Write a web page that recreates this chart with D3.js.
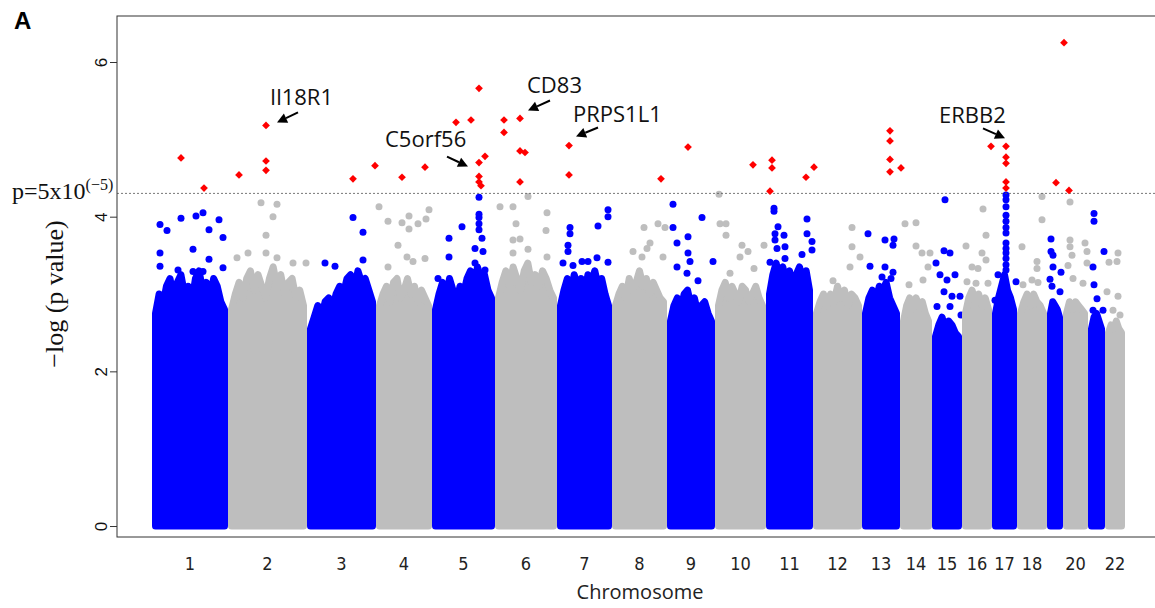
<!DOCTYPE html>
<html>
<head>
<meta charset="utf-8">
<script src="https://cdn.jsdelivr.net/npm/d3@7"></script>
<style>
  body { margin: 0; background: #fff; }
  svg { display: block; }
</style>
</head>
<body>
<svg id="chart" width="1155" height="608"></svg>
<script>
// chromosomes and number of SNPs (thousands) on each, in plot order
const chromosomes = ['1','2','3','4','5','6','7','8','9','10','11','12','13','14','15','16','17','18','19','20','21','22'];
const snpCountK = [76,79,69,56,63,62,55,55,48,51,47,49,38,32,30,30,25,30,16,25,17,20];
const tickChroms = ['1','2','3','4','5','6','7','8','9','10','11','12','13','14','15','16','17','18','20','22'];
const yTicks = [0, 2, 4, 6];
const sigThreshold = 5e-5;

// top of the dense cloud of SNPs per chromosome (-log p, evenly spaced along chromosome)
const cloudTop = [
  [2.75, 3.0, 2.85, 3.1, 3.2, 2.95, 3.15, 3.25, 3.0, 3.1, 2.9, 3.2, 3.3, 3.05, 3.15, 2.95, 3.2, 3.1, 2.9, 2.8],
  [2.8, 3.0, 3.15, 2.95, 3.2, 3.3, 3.05, 3.25, 3.1, 2.95, 3.2, 3.35, 3.1, 3.25, 3.0, 3.15, 3.2, 2.95, 3.05, 2.85],
  [2.55, 2.7, 2.85, 2.7, 2.9, 2.95, 2.8, 3.0, 3.1, 3.0, 3.2, 3.25, 3.05, 3.3, 3.15, 3.2, 3.05, 2.9],
  [2.85, 3.0, 3.1, 2.9, 3.15, 3.2, 2.95, 3.05, 3.2, 3.0, 3.1, 2.9, 3.05, 2.95, 2.85],
  [2.8, 3.0, 3.15, 2.95, 3.2, 3.05, 2.9, 3.1, 3.0, 3.2, 3.3, 3.1, 3.35, 3.2, 3.25, 3.05, 2.95],
  [2.95, 3.15, 3.3, 3.1, 3.35, 3.2, 3.05, 3.3, 3.4, 3.15, 3.25, 3.1, 3.3, 3.2, 3.05, 2.95],
  [2.85, 3.05, 3.2, 3.0, 3.25, 3.1, 3.2, 3.0, 3.25, 3.15, 3.3, 3.1, 3.2, 3.0, 2.85],
  [2.85, 3.0, 3.1, 2.95, 3.2, 3.05, 3.15, 3.3, 3.1, 3.2, 3.0, 3.15, 3.05, 2.95, 2.9],
  [2.65, 2.85, 2.95, 2.8, 3.0, 3.05, 2.85, 2.95, 2.75, 2.85, 2.9, 2.75, 2.65],
  [2.85, 3.05, 3.15, 2.95, 3.1, 3.0, 2.9, 3.1, 3.05, 2.9, 3.0, 3.1, 2.95, 2.85],
  [3.0, 3.25, 3.4, 3.2, 3.35, 3.15, 3.3, 3.1, 3.25, 3.35, 3.2, 3.3, 3.05],
  [2.75, 2.9, 3.0, 2.85, 3.0, 2.9, 3.1, 2.95, 3.05, 2.85, 3.0, 2.95, 2.85],
  [2.75, 2.95, 3.05, 2.9, 3.1, 3.05, 3.15, 2.95, 2.85, 2.75],
  [2.65, 2.85, 2.95, 2.8, 2.95, 2.85, 2.9, 2.75, 2.65],
  [2.45, 2.6, 2.7, 2.55, 2.65, 2.6, 2.5, 2.45],
  [2.75, 2.95, 3.05, 2.9, 3.0, 2.85, 2.95, 2.8],
  [2.75, 2.95, 3.1, 3.25, 3.05, 2.95, 2.8],
  [2.75, 2.9, 3.0, 2.85, 3.0, 2.9, 2.85, 2.75],
  [2.75, 2.9, 2.85, 2.8, 2.7],
  [2.75, 2.9, 2.8, 2.9, 2.85, 2.8, 2.75],
  [2.55, 2.7, 2.75, 2.65, 2.55],
  [2.5, 2.6, 2.55, 2.65, 2.55, 2.5]
];

// scattered SNPs above the cloud: [chromosome, position (K SNPs), -log p]
const topSnps = [
  [1,8,3.90],[1,15,3.82],[1,29,3.98],[1,44,4.01],[1,51,4.05],[1,67,3.96],[1,57,3.83],[1,71,3.73],[1,41,3.58],[1,8,3.53],[1,8,3.36],[1,57,3.45],[1,71,3.34],[1,26,3.31],[1,41,3.29],[1,51,3.29],
  [2,33,4.18],[2,49,4.16],[2,45,4.00],[2,38,3.76],[2,20,3.53],[2,9,3.47],[2,38,3.53],[2,49,3.47],[2,65,3.40],[2,78,3.40],
  [3,46,3.99],[3,56,3.80],[3,18,3.40],[3,28,3.36],[3,56,3.44],
  [4,3,4.13],[4,12,3.94],[4,26,3.92],[4,33,4.01],[4,42,3.91],[4,50,3.97],[4,53,4.09],[4,22,3.63],[4,33,3.84],[4,31,3.48],[4,37,3.42],[4,49,3.46],[4,12,3.35],
  [5,47,4.25],[5,47,4.03],[5,47,3.99],[5,47,3.91],[5,47,3.83],[5,50,3.72],[5,43,3.59],[5,51,3.55],[5,43,3.40],[5,30,3.87],[5,17,3.72],[5,17,3.48],[5,6,3.20],[5,53,3.31],
  [6,5,4.13],[6,18,4.13],[6,33,4.26],[6,52,4.05],[6,21,3.91],[6,51,3.82],[6,18,3.70],[6,25,3.71],[6,33,3.58],[6,18,3.53],[6,52,3.48],
  [7,51,4.09],[7,51,4.00],[7,41,3.88],[7,13,3.86],[7,13,3.78],[7,11,3.63],[7,11,3.55],[7,6,3.40],[7,16,3.37],[7,31,3.42],[7,40,3.47],[7,51,3.41],[7,25,3.42],
  [8,32,3.86],[8,46,3.91],[8,53,3.86],[8,38,3.66],[8,35,3.59],[8,21,3.55],[8,30,3.48],[8,51,3.48],
  [9,6,4.16],[9,6,3.86],[9,10,3.66],[9,21,3.74],[9,35,3.99],[9,21,3.53],[9,23,3.42],[9,10,3.35],[9,20,3.27],[9,31,3.17],[9,46,3.42],
  [10,4,4.29],[10,5,3.91],[10,11,3.91],[10,11,3.76],[10,27,3.63],[10,33,3.55],[10,25,3.48],[10,39,3.33],[10,15,3.27],[10,49,3.63],
  [11,8,4.11],[11,8,4.07],[11,12,3.87],[11,9,3.78],[11,18,3.76],[11,9,3.70],[11,19,3.61],[11,11,3.59],[11,41,3.97],[11,41,3.78],[11,46,3.57],[11,36,3.51],[11,19,3.46],[11,4,3.41],[11,46,3.68],
  [12,39,3.86],[12,39,3.61],[12,47,3.48],[12,37,3.35],[12,20,3.17],
  [13,6,3.78],[13,23,3.70],[13,32,3.71],[13,31,3.63],[13,8,3.36],[13,23,3.35],[13,31,3.28],[13,29,3.20],[13,20,3.22],
  [14,5,3.91],[14,16,3.92],[14,16,3.62],[14,22,3.53],[14,30,3.53],[14,28,3.35],[14,23,3.18],[14,9,3.12],
  [15,13,4.22],[15,12,3.56],[15,18,3.53],[15,4,3.40],[15,8,3.25],[15,15,3.18],[15,23,3.25],[15,12,3.03],[15,20,2.97],[15,28,2.97],[15,5,2.84],[15,18,2.84],[15,29,2.73],
  [16,21,4.10],[16,4,3.62],[16,24,3.76],[16,20,3.53],[16,24,3.44],[16,10,3.35],[16,16,3.33],[16,5,3.16],[16,14,3.14],[16,26,3.14],
  [17,14,4.28],[17,14,4.22],[17,14,4.13],[17,14,4.02],[17,14,3.94],[17,14,3.86],[17,14,3.79],[17,14,3.66],[17,14,3.59],[17,14,3.53],[17,14,3.46],[17,14,3.38],[17,14,3.31],[17,6,3.25],[17,24,3.16],[17,3,2.92],
  [18,25,4.26],[18,25,3.96],[18,5,3.61],[18,20,3.42],[18,20,3.33],[18,15,3.18],[18,6,3.12],[18,21,3.15],
  [19,4,3.71],[19,4,3.55],[19,6,3.50],[19,6,3.35],[19,14,3.28],[19,3,3.19],[19,5,3.10],[19,13,3.03],
  [20,7,4.19],[20,7,3.70],[20,7,3.61],[20,9,3.50],[20,22,3.66],[20,24,3.55],[20,5,3.37],[20,24,3.40],[20,10,3.20],[20,20,3.14],
  [21,6,4.04],[21,6,3.94],[21,16,3.55],[21,5,3.35],[21,6,3.12],[21,9,2.94],[21,5,2.79],[21,15,2.79],
  [22,13,3.53],[22,4,3.41],[22,12,3.42],[22,2,3.03],[22,13,2.97],[22,8,2.79],[22,15,2.73]
];

// SNPs passing p < 5e-5: [chromosome, position (K SNPs), -log p]
const sigSnps = [
  [1,29,4.76],[1,52,4.37],[2,11,4.54],[2,38,5.18],[2,38,4.72],[2,38,4.60],[3,46,4.49],[3,68,4.66],
  [4,26,4.51],[4,49,4.64],[5,24,5.22],[5,39,5.25],[5,47,5.66],[5,47,4.70],[5,53,4.78],[5,47,4.52],
  [5,47,4.45],[5,49,4.40],[6,9,5.25],[6,9,5.09],[6,25,5.27],[6,25,4.85],[6,30,4.83],[6,25,4.45],
  [7,12,4.92],[7,12,4.54],[8,49,4.49],[9,21,4.90],[10,38,4.67],[11,6,4.73],[11,6,4.63],[11,4,4.33],
  [11,40,4.51],[12,1,4.64],[13,28,5.11],[13,28,4.98],[13,28,4.74],[13,28,4.58],[14,1,4.63],[16,29,4.91],
  [17,14,4.91],[17,14,4.77],[17,14,4.69],[17,14,4.45],[17,14,4.37],[19,9,4.44],[20,1,6.25],[20,6,4.34]
];

// labelled genes
const geneNames = ['Il18R1', 'C5orf56', 'CD83', 'PRPS1L1', 'ERBB2'];
const geneChr = [2, 5, 6, 7, 17];
const genePos = [38, 47, 25, 12, 14];
const geneLogP = [5.18, 4.70, 5.27, 4.92, 4.91];

// label placement relative to the SNP, in px: text start, arrow tail, arrow tip
const labelOffsets = [
  { tx: 4, ty: -20, ax: 32, ay: -13, bx: 11, by: -3 },
  { tx: -94, ty: -16, ax: -32, ay: -6, bx: -11, by: 4 },
  { tx: 7, ty: -25, ax: 30, ay: -18, bx: 8, by: -8 },
  { tx: 4, ty: -24, ax: 29, ay: -18, bx: 7, by: -9 },
  { tx: -67, ty: -23, ax: -23, ay: -18, bx: -1, by: -8 }
];

const BLUE = '#0000ff', GREY = '#bebebe', RED = '#ff0000';
const R = 3.5;

const svg = d3.select('#chart');
const box = { left: 117, top: 16, right: 1160, bottom: 537 };

const starts = snpCountK.map((w, i) => d3.sum(snpCountK.slice(0, i)));
const total = d3.sum(snpCountK);

const x = d3.scaleLinear().domain([-35, total + 35]).range([box.left, box.right]);
const y = d3.scaleLinear().domain([-0.142, 6.595]).range([box.bottom, box.top]);

const chrColor = i => (i % 2 === 0 ? BLUE : GREY);
const snpX = (chr, pos) => x(starts[chr - 1] + pos);

// dense clouds
const area = d3.area().x(d => d.px).y0(y(0)).y1(d => y(d.v));
const plot = svg.append('g');

chromosomes.forEach((c, i) => {
  const x0 = x(starts[i]) + R, x1 = x(starts[i] + snpCountK[i]) - R;
  const vals = cloudTop[i];
  const pts = vals.map((v, j) => ({ px: x0 + j * (x1 - x0) / (vals.length - 1), v }));
  const g = plot.append('g');
  g.append('path')
    .attr('d', area(pts))
    .attr('fill', chrColor(i))
    .attr('stroke', chrColor(i))
    .attr('stroke-width', R * 2)
    .attr('stroke-linejoin', 'round');
  g.selectAll('circle')
    .data(topSnps.filter(d => d[0] === i + 1))
    .enter()
    .append('circle')
    .attr('cx', d => snpX(d[0], d[1]))
    .attr('cy', d => y(d[2]))
    .attr('r', R)
    .attr('fill', chrColor(i));
});

// threshold line
const thr = -Math.log10(sigThreshold);
svg.append('line')
  .attr('x1', box.left).attr('x2', box.right)
  .attr('y1', y(thr)).attr('y2', y(thr))
  .attr('stroke', '#555')
  .attr('stroke-width', 0.8)
  .attr('stroke-dasharray', '2,2');

// significant SNPs
const diamond = d3.symbol().type(d3.symbolDiamond2).size(38);
svg.append('g').selectAll('path')
  .data(sigSnps)
  .enter()
  .append('path')
  .attr('d', diamond)
  .attr('transform', d => `translate(${snpX(d[0], d[1])},${y(d[2])})`)
  .attr('fill', RED);

// box
svg.append('rect')
  .attr('x', box.left).attr('y', box.top)
  .attr('width', box.right - box.left).attr('height', box.bottom - box.top)
  .attr('fill', 'none').attr('stroke', '#333').attr('stroke-width', 1);

// y axis
const yAxis = svg.append('g')
  .attr('transform', `translate(${box.left},0)`)
  .call(d3.axisLeft(y).tickValues(yTicks).tickFormat(d3.format('d')).tickSize(7).tickPadding(3));
yAxis.select('.domain').remove();
yAxis.selectAll('line').attr('stroke', '#333');
yAxis.selectAll('text')
  .attr('x', null).attr('dy', null)
  .attr('transform', 'translate(-10,0) rotate(-90)')
  .attr('text-anchor', 'middle')
  .attr('font-family', 'Liberation Sans, Arial, sans-serif')
  .attr('font-size', 17)
  .attr('fill', '#111');

svg.append('text')
  .attr('transform', 'translate(63,294) rotate(-90)')
  .attr('text-anchor', 'middle')
  .attr('font-family', 'Liberation Serif, Times New Roman, serif')
  .attr('font-size', 26)
  .attr('fill', '#111')
  .text('\u2212log (p value)');

// threshold label
const thrLabel = svg.append('text')
  .attr('x', 12).attr('y', 199)
  .attr('font-family', 'Liberation Serif, Times New Roman, serif')
  .attr('font-size', 24)
  .attr('fill', '#111');
thrLabel.append('tspan').text('p=5x10');
thrLabel.append('tspan').attr('font-size', 16).attr('dy', -9).text('(\u22125)');

// x labels
svg.append('g').selectAll('text')
  .data(tickChroms)
  .enter()
  .append('text')
  .attr('x', c => { const i = chromosomes.indexOf(c); return x(starts[i] + snpCountK[i] / 2); })
  .attr('y', 570)
  .attr('text-anchor', 'middle')
  .attr('font-family', 'DejaVu Sans Condensed, DejaVu Sans, sans-serif')
  .attr('font-stretch', 'condensed')
  .attr('font-size', 18)
  .attr('fill', '#222')
  .text(c => c);

svg.append('text')
  .attr('x', 640).attr('y', 599)
  .attr('text-anchor', 'middle')
  .attr('font-family', 'Open Sans, sans-serif')
  .attr('font-size', 20)
  .attr('fill', '#222')
  .text('Chromosome');

// gene labels with arrows
const ann = svg.append('g');
geneNames.forEach((name, k) => {
  const px = snpX(geneChr[k], genePos[k]), py = y(geneLogP[k]);
  const o = labelOffsets[k];
  ann.append('text')
    .attr('x', px + o.tx).attr('y', py + o.ty)
    .attr('font-family', 'Open Sans, sans-serif')
    .attr('font-size', 22)
    .attr('fill', '#111')
    .text(name);
  const ax = px + o.ax, ay = py + o.ay, bx = px + o.bx, by = py + o.by;
  const ang = Math.atan2(by - ay, bx - ax);
  const hl = 10, hw = 5;
  const cx = bx - hl * Math.cos(ang), cy = by - hl * Math.sin(ang);
  ann.append('line')
    .attr('x1', ax).attr('y1', ay).attr('x2', cx).attr('y2', cy)
    .attr('stroke', '#000').attr('stroke-width', 2);
  ann.append('path')
    .attr('d', `M${bx},${by}L${cx - hw * Math.sin(ang)},${cy + hw * Math.cos(ang)}L${cx + hw * Math.sin(ang)},${cy - hw * Math.cos(ang)}Z`)
    .attr('fill', '#000');
});

// panel letter
svg.append('text')
  .attr('x', 14).attr('y', 29)
  .attr('font-family', 'Liberation Sans, Arial, sans-serif')
  .attr('font-weight', 'bold')
  .attr('font-size', 24)
  .attr('fill', '#000')
  .text('A');
</script>
</body>
</html>
